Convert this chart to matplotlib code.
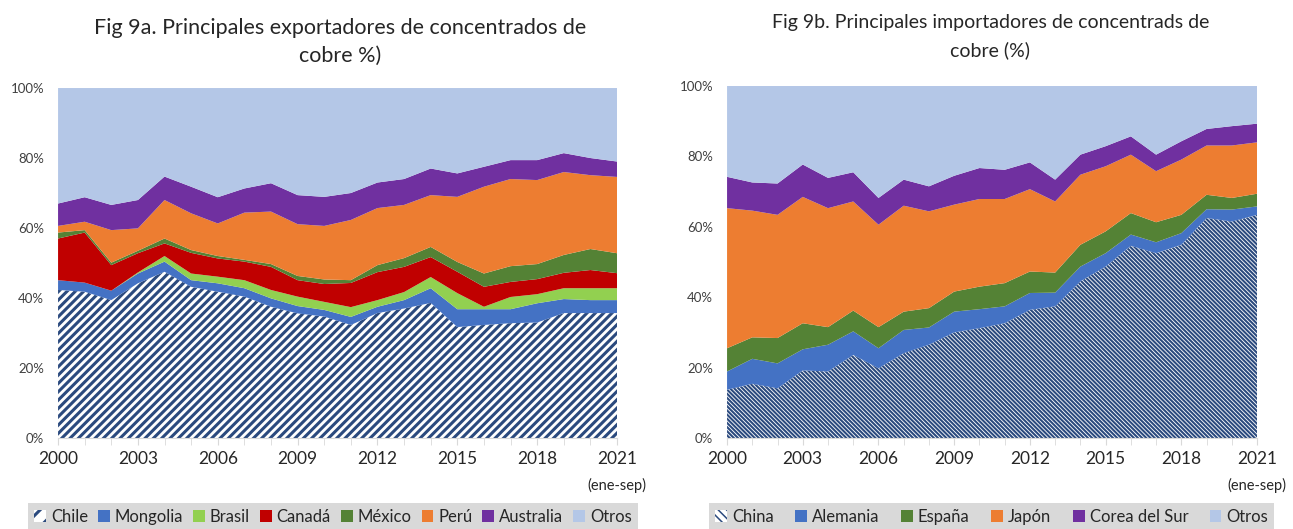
import numpy as np
import matplotlib
matplotlib.use("Agg")
import matplotlib.pyplot as plt
from matplotlib.patches import Patch

plt.rcParams['font.family'] = ['Lato', 'DejaVu Sans']

years = list(range(2000, 2022))

# Fig 9a - exportadores (% del total)
chile = [42.3, 41.8, 39.4, 44.2, 47.5, 43.2, 41.8, 40.4, 37.5, 35.6, 34.7,
         32.3, 35.7, 37.0, 38.6, 31.7, 32.3, 32.8, 33.0, 35.7, 35.7, 35.7]
mongolia = [2.8, 2.6, 2.7, 2.8, 2.9, 1.9, 2.4, 2.4, 2.4, 2.1, 1.9,
            2.3, 1.8, 2.4, 4.2, 5.1, 4.5, 4.0, 5.5, 4.0, 3.7, 3.7]
brasil = [0.0, 0.0, 0.0, 0.3, 1.6, 1.9, 1.9, 2.3, 2.4, 2.7, 2.3,
          2.8, 1.9, 2.3, 3.2, 4.6, 0.7, 3.5, 2.6, 3.1, 3.4, 3.4]
canada = [11.9, 14.3, 7.3, 5.5, 3.6, 5.9, 5.2, 5.3, 6.6, 4.7, 5.1,
          6.9, 8.0, 7.2, 5.7, 6.1, 5.7, 4.3, 4.3, 4.4, 5.2, 4.3]
mexico = [1.7, 0.7, 0.7, 0.7, 1.4, 0.8, 0.7, 0.5, 0.8, 1.2, 1.3,
          0.8, 2.0, 2.5, 2.9, 2.8, 3.8, 4.5, 4.3, 5.1, 6.0, 5.7]
peru = [1.9, 2.4, 9.3, 6.4, 11.0, 10.5, 9.3, 13.5, 15.0, 14.8, 15.3,
        17.2, 16.3, 15.2, 14.8, 18.6, 24.8, 24.9, 24.0, 23.7, 21.1, 21.8]
australia = [6.4, 7.0, 7.2, 8.1, 6.7, 7.6, 7.5, 6.9, 8.1, 8.3, 8.3,
             7.7, 7.3, 7.4, 7.6, 6.7, 5.7, 5.4, 5.7, 5.4, 4.9, 4.4]

# Fig 9b - importadores (% del total)
china = [13.7, 15.4, 14.1, 19.2, 18.9, 23.6, 19.8, 24.1, 26.5, 30.0, 31.2,
         32.6, 36.4, 37.4, 44.5, 48.7, 54.6, 52.5, 54.9, 62.5, 61.5, 63.4]
alemania = [5.2, 7.1, 7.1, 6.0, 7.6, 6.7, 5.7, 6.6, 4.9, 5.9, 5.4,
            4.8, 4.8, 3.9, 4.2, 3.8, 3.2, 3.1, 3.3, 2.5, 3.4, 2.4]
espana = [6.6, 6.1, 7.2, 7.4, 5.0, 5.9, 6.0, 5.2, 5.5, 5.7, 6.4,
          6.6, 6.1, 5.7, 6.2, 6.2, 6.1, 5.7, 5.2, 4.1, 3.3, 3.6]
japon = [39.8, 36.0, 35.0, 35.9, 33.8, 31.0, 29.1, 30.1, 27.5, 24.7, 24.9,
         23.9, 23.4, 20.2, 19.9, 18.5, 16.6, 14.5, 15.7, 14.0, 14.9, 14.6]
corea = [8.9, 8.0, 8.9, 9.2, 8.6, 8.3, 7.6, 7.4, 7.1, 8.2, 8.8,
         8.3, 7.6, 6.2, 5.7, 5.7, 5.2, 4.7, 5.2, 4.7, 5.5, 5.3]

exp_names = ['Chile', 'Mongolia', 'Brasil', 'Canadá', 'México', 'Perú', 'Australia', 'Otros']
imp_names = ['China', 'Alemania', 'España', 'Japón', 'Corea del Sur', 'Otros']

HATCH = '#2b4a7e'
BLUE = '#4472c4'
LGREEN = '#92d050'
RED = '#c00000'
DGREEN = '#548235'
ORANGE = '#ed7d31'
PURPLE = '#7030a0'
OTROS = '#b4c7e7'
TXT = '#404040'

exp_colors = ['white', BLUE, LGREEN, RED, DGREEN, ORANGE, PURPLE, OTROS]
imp_colors = ['white', BLUE, DGREEN, ORANGE, PURPLE, OTROS]

HATCH_EXP = '////'
HATCH_IMP = '\\' * 8


def otros(*series):
    return list(100 - np.sum(np.array(series), axis=0))


def hatch_first(poly, pattern, lw):
    poly.set_facecolor('white')
    poly.set_edgecolor(HATCH)
    poly.set_linewidth(0)
    poly.set_hatch(pattern)
    if hasattr(poly, 'set_hatch_linewidth'):
        poly.set_hatch_linewidth(lw)


def style_axes(ax):
    ax.set_xlim(2000, 2021)
    ax.set_ylim(0, 100)
    for s in ['top', 'right', 'left']:
        ax.spines[s].set_visible(False)
    ax.spines['bottom'].set_color('#d9d9d9')
    ax.set_xticks(range(2000, 2022, 3))
    ax.set_xticks(years, minor=True)
    ax.tick_params(axis='x', which='both', length=5, color='#d9d9d9',
                   labelsize=12.5, labelcolor='#262626', pad=4)
    ax.set_yticks(range(0, 101, 20))
    ax.set_yticklabels([f'{v}%' for v in range(0, 101, 20)])
    ax.tick_params(axis='y', length=0, labelsize=9.5, labelcolor=TXT, pad=10)
    ax.text(2021, -11.3, '(ene-sep)', ha='center', va='top', fontsize=10.5,
            color='#262626', transform=ax.transData, clip_on=False)


fig = plt.figure(figsize=(12.93, 5.29), dpi=100)
ax1 = fig.add_axes([0.0449, 0.172, 0.4323, 0.6616])
ax2 = fig.add_axes([0.5623, 0.172, 0.4099, 0.6654])

exp_data = [chile, mongolia, brasil, canada, mexico, peru, australia]
exp_data.append(otros(*exp_data))
plt.rcParams['hatch.linewidth'] = 2.2
polys = ax1.stackplot(years, exp_data, colors=exp_colors, linewidth=0)
hatch_first(polys[0], HATCH_EXP, 2.2)
style_axes(ax1)

imp_data = [china, alemania, espana, japon, corea]
imp_data.append(otros(*imp_data))
plt.rcParams['hatch.linewidth'] = 1.5
polys2 = ax2.stackplot(years, imp_data, colors=imp_colors, linewidth=0)
hatch_first(polys2[0], HATCH_IMP, 1.5)
style_axes(ax2)

fig.text(0.263, 0.948, 'Fig 9a. Principales exportadores de concentrados de',
         ha='center', va='center', fontsize=15.5, color='#262626')
fig.text(0.263, 0.895, 'cobre %)', ha='center', va='center', fontsize=15.5, color='#262626')
fig.text(0.766, 0.958, 'Fig 9b. Principales importadores de concentrads de',
         ha='center', va='center', fontsize=14, color='#262626')
fig.text(0.766, 0.905, 'cobre (%)', ha='center', va='center', fontsize=14, color='#262626')


def make_handles(names, colors, pattern):
    hs = []
    for i, (n, c) in enumerate(zip(names, colors)):
        if i == 0:
            hs.append(Patch(facecolor='white', edgecolor=HATCH, hatch=pattern,
                            linewidth=0, label=n))
        else:
            hs.append(Patch(facecolor=c, edgecolor='none', label=n))
    return hs


plt.rcParams['hatch.linewidth'] = 2.2
leg1 = fig.legend(handles=make_handles(exp_names, exp_colors, '//'),
                  loc='center', bbox_to_anchor=(0.2575, 0.0225), ncol=8,
                  fontsize=12, frameon=True, fancybox=False, handlelength=0.7,
                  handleheight=0.7, handletextpad=0.3, columnspacing=0.6,
                  borderpad=0.35, labelcolor='#262626')
leg1.get_frame().set_facecolor('#d9d9d9')
leg1.get_frame().set_edgecolor('none')
leg1.get_frame().set_alpha(1)

plt.rcParams['hatch.linewidth'] = 1.1
leg2 = fig.legend(handles=make_handles(imp_names, imp_colors, '\\\\\\\\'),
                  loc='center', bbox_to_anchor=(0.7670, 0.0225), ncol=6,
                  fontsize=12, frameon=True, fancybox=False, handlelength=0.7,
                  handleheight=0.7, handletextpad=0.3, columnspacing=1.3,
                  borderpad=0.35, labelcolor='#262626')
leg2.get_frame().set_facecolor('#d9d9d9')
leg2.get_frame().set_edgecolor('none')
leg2.get_frame().set_alpha(1)

fig.savefig('out.png', dpi=100)
